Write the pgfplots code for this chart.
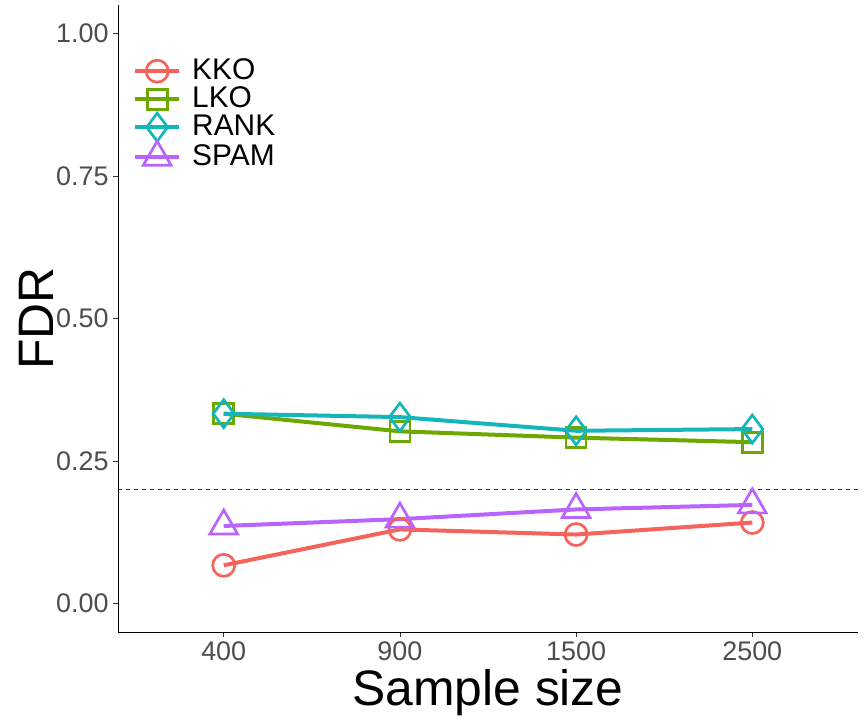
\documentclass[border=0pt]{standalone}
\usepackage{pgfplots}
\pgfplotsset{compat=1.18}
\usepackage{fontspec}
\setmainfont{Liberation Sans}
\definecolor{cKKO}{HTML}{F5635D}
\definecolor{cLKO}{HTML}{6DA800}
\definecolor{cRANK}{HTML}{14B6BA}
\definecolor{cSPAM}{HTML}{B964FF}
\definecolor{gray30}{HTML}{4D4D4D}
\definecolor{gray20}{HTML}{333333}
\begin{document}
\begin{tikzpicture}
\useasboundingbox (0,0) rectangle (864bp,720bp);
\begin{axis}[
  at={(118bp,88bp)}, anchor=south west,
  scale only axis, width=740bp, height=627bp,
  xmin=0.4, xmax=4.6, ymin=-0.05, ymax=1.05,
  axis x line*=bottom, axis y line*=left,
  axis line style={-, black, line width=0.7bp},
  xtick={1,2,3,4}, xticklabels={400,900,1500,2500},
  ytick={0,0.25,0.5,0.75,1},
  yticklabel style={/pgf/number format/fixed, /pgf/number format/fixed zerofill, /pgf/number format/precision=2},
  /pgf/number format/assume math mode=true,
  tick align=outside, major tick length=5bp,
  tick style={gray20, line width=0.7bp},
  ticklabel style={font=\fontsize{27}{27}\selectfont, text=gray30},
  xticklabel style={yshift=-1bp},
  yticklabel style={xshift=-1bp},
  xlabel={Sample size}, ylabel={FDR},
  label style={font=\fontsize{50}{50}\selectfont},
  xlabel style={yshift=-2bp},
  ylabel style={yshift=-4bp},
  legend style={draw=none, fill=none, at={(axis description cs:0,1)}, anchor=north west,
    xshift=12bp, yshift=-50bp, font=\fontsize{30}{30}\selectfont,
    row sep=0bp, cells={anchor=west},
    nodes={inner sep=1bp, text height=21bp, text depth=5bp}},
  legend image code/.code={\draw[mark repeat=2,mark phase=2] plot coordinates {(0bp,0bp)(22bp,0bp)(44bp,0bp)} ++(10bp,0);},
  clip=false,
]
\addplot[gray20, dashed, line width=0.9bp, dash pattern=on 4bp off 4bp, forget plot] coordinates {(0.4,0.2)(4.6,0.2)};
\addplot[cKKO, line width=4bp, mark=o, mark size=11bp, mark options={line width=2.7bp, solid}] coordinates {(1,0.067)(2,0.130)(3,0.121)(4,0.142)};
\addlegendentry{KKO}
\addplot[cLKO, line width=4bp, mark=square, mark size=10bp, mark options={line width=2.7bp, solid}] coordinates {(1,0.333)(2,0.302)(3,0.291)(4,0.283)};
\addlegendentry{LKO}
\addplot[cRANK, line width=4bp, mark=diamond, mark size=14bp, mark options={line width=2.7bp, solid}] coordinates {(1,0.333)(2,0.327)(3,0.303)(4,0.306)};
\addlegendentry{RANK}
\addplot[cSPAM, line width=4bp, mark=triangle, mark size=16bp, mark options={line width=2.7bp, solid}] coordinates {(1,0.136)(2,0.148)(3,0.165)(4,0.173)};
\addlegendentry{SPAM}
\end{axis}
\end{tikzpicture}
\end{document}
